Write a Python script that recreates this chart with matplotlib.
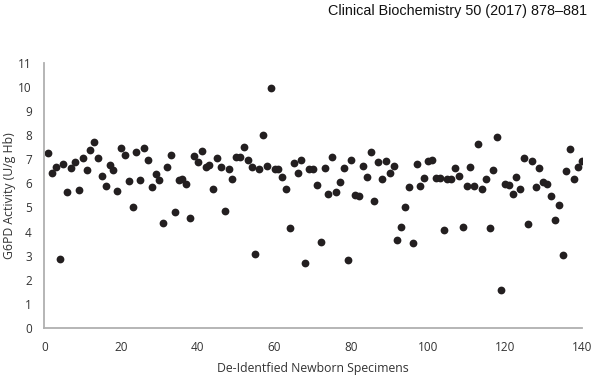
import numpy as np
import matplotlib
matplotlib.use('Agg')
import matplotlib.pyplot as plt

# G6PD activity per de-identified newborn specimen
specimen = np.arange(1, 141)
g6pd = [7.25, 6.42, 6.67, 2.86, 6.80, 5.63, 6.63, 6.90, 5.72, 7.04,
        6.56, 7.36, 7.70, 7.04, 6.31, 5.89, 6.74, 6.56, 5.67, 7.45,
        7.16, 6.11, 5.02, 7.28, 6.14, 7.45, 6.96, 5.86, 6.40, 6.14,
        4.34, 6.67, 7.16, 4.83, 6.15, 6.18, 5.96, 4.56, 7.15, 6.90,
        7.32, 6.69, 6.75, 5.78, 7.05, 6.69, 4.85, 6.60, 6.18, 7.08,
        7.11, 7.51, 6.97, 6.68, 3.06, 6.58, 8.01, 6.72, 9.97, 6.58,
        6.58, 6.27, 5.77, 4.14, 6.83, 6.42, 6.96, 2.68, 6.58, 6.58,
        5.92, 3.58, 6.64, 5.57, 7.10, 5.62, 6.07, 6.65, 2.82, 6.98,
        5.51, 5.46, 6.72, 6.27, 7.30, 5.28, 6.89, 6.17, 6.92, 6.42,
        6.71, 3.65, 4.18, 5.01, 5.85, 3.51, 6.82, 5.89, 6.24, 6.92,
        6.96, 6.22, 6.20, 4.08, 6.17, 6.17, 6.63, 6.31, 4.19, 5.89,
        6.68, 5.89, 7.61, 5.77, 6.18, 4.14, 6.56, 7.93, 1.58, 5.98,
        5.92, 5.57, 6.25, 5.78, 7.03, 4.30, 6.93, 5.86, 6.64, 6.06,
        5.99, 5.46, 4.47, 5.08, 3.04, 6.51, 7.43, 6.18, 6.67, 6.94]
xticks = [0, 20, 40, 60, 80, 100, 120, 140]
yticks = list(range(0, 12))

txt = '#333333'
fig = plt.figure(figsize=(6, 3.75), dpi=100)
ax = fig.add_axes([0.0738, 0.1253, 0.8957, 0.7075])

ax.plot(specimen, g6pd, 'o', color='#231f20', markersize=5.6, markeredgewidth=0)

ax.set_xlim(0, 140)
ax.set_ylim(0, 11)
ax.set_xticks(xticks)
ax.set_yticks(yticks)
for s in ['top', 'right']:
    ax.spines[s].set_visible(False)
for s in ['left', 'bottom']:
    ax.spines[s].set_color('#b0b0b0')
    ax.spines[s].set_linewidth(1.3)
ax.tick_params(length=0, labelsize=8.5, colors=txt, pad=9)
for lab in ax.get_xticklabels() + ax.get_yticklabels():
    lab.set_family('Open Sans')

ax.set_xlabel('De-Identfied Newborn Specimens', family='Open Sans', fontsize=8.8,
              color=txt, labelpad=6)
ax.set_ylabel('G6PD Activity (U/g Hb)', family='Open Sans', fontsize=8.8,
              color=txt)
ax.yaxis.set_label_coords(-0.053, 0.5)

fig.text(0.978, 0.99, 'Clinical Biochemistry 50 (2017) 878\u2013881',
         family='Liberation Sans', fontsize=10.4, ha='right', va='top', color='#111111')

fig.savefig('out.png', dpi=100)
